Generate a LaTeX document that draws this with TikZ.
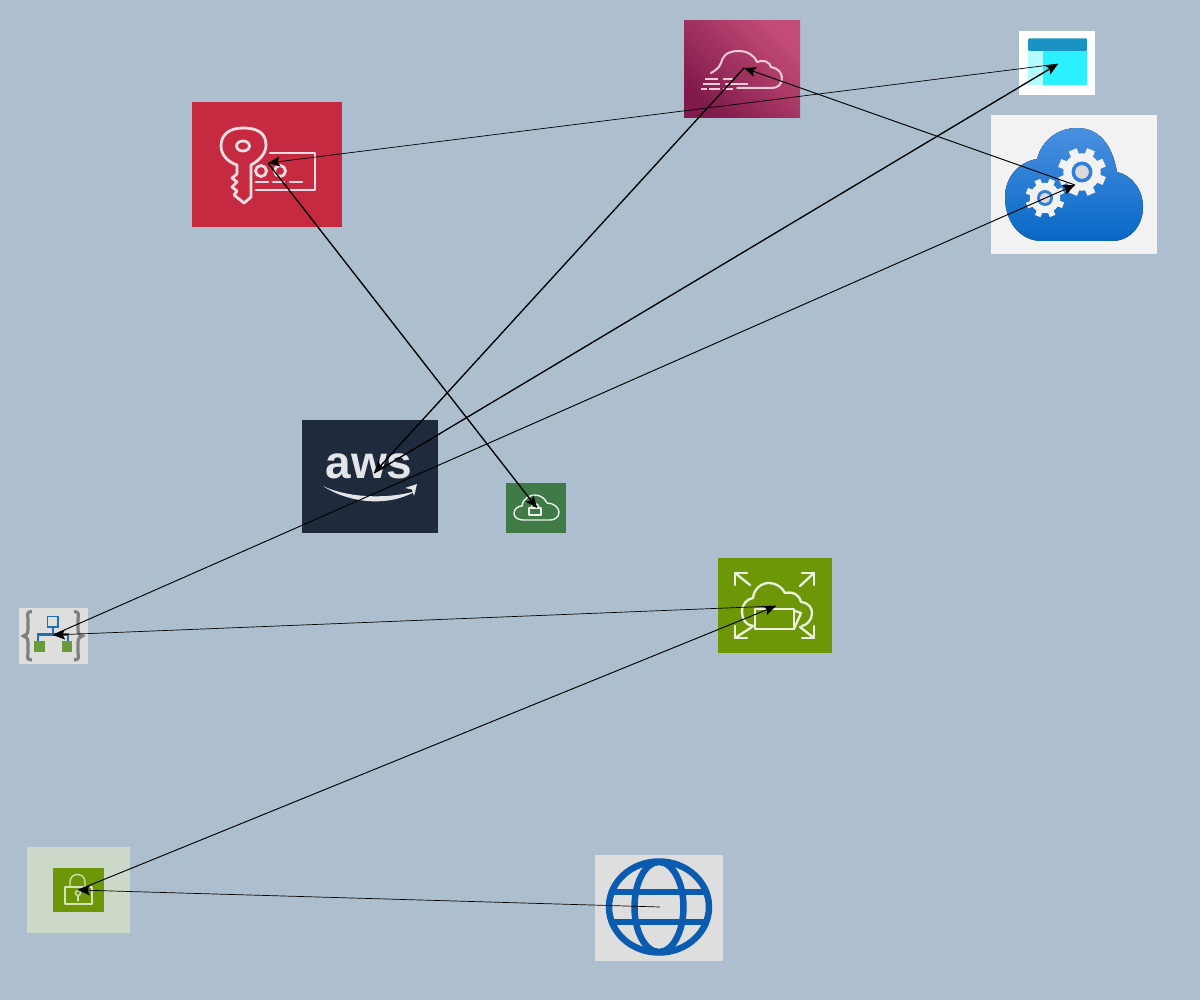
\documentclass[tikz,border=0pt]{standalone}
\usepackage{fontspec}
\setmainfont{Liberation Sans}
\usetikzlibrary{arrows.meta}
\definecolor{bgc}{HTML}{ADBFCF}
\definecolor{keyred}{HTML}{C62A40}
\definecolor{plumdark}{HTML}{7F1A4A}
\definecolor{plumlight}{HTML}{C44C78}
\definecolor{navy}{HTML}{1F2B3C}
\definecolor{leaf}{HTML}{3F7A47}
\definecolor{olive}{HTML}{6E9708}
\definecolor{pale}{HTML}{DEDEDC}
\definecolor{sage}{HTML}{CCD8C8}
\definecolor{globeb}{HTML}{0B5CB0}
\definecolor{azure}{HTML}{2F80DA}
\definecolor{cloudtop}{HTML}{4A90E0}
\definecolor{cloudlow}{HTML}{0868C6}
\definecolor{winbar}{HTML}{1A93C4}
\definecolor{winleft}{HTML}{B4FBFF}
\definecolor{winright}{HTML}{2BF0FF}
\definecolor{treeblue}{HTML}{1F6FB5}
\definecolor{treegreen}{HTML}{6A9A3A}
\tikzset{
  tile/.style={inner sep=0pt,outer sep=0pt,draw=none},
  icon/.style={line width=1.6pt,line join=round,line cap=round},
  link/.style={-{Stealth[length=12pt,width=10pt,inset=2.5pt]},black},
  linkthin/.style={link,line width=0.7pt},
  linkmid/.style={link,line width=0.95pt},
  linkbold/.style={link,line width=1.35pt},
}
\newcommand{\gearicon}[6]{% x y outer ringr toothwidth colour
  \fill[#6] (#1,#2) circle ({#3*0.78});
  \foreach \a in {0,45,...,315}{\draw[#6,line width=#5pt] (#1,#2) -- ++(\a+22:#3);}
  \fill[azure] (#1,#2) circle (#4);
  \fill[gray!30] (#1,#2) circle ({#4*0.65});
}
\begin{document}
\begin{tikzpicture}[x=1pt,y=-1pt]
\useasboundingbox (0,0) rectangle (1200,1000);
\fill[bgc] (0,0) rectangle (1200,1000);

% ---------- tiles ----------
\node[tile,fill=keyred,minimum width=150pt,minimum height=125pt] (keytile) at (267,164.5) {};
\node[tile,bottom color=plumdark,top color=plumlight,shading angle=-45,minimum width=116pt,minimum height=97pt] (fogtile) at (742,69.5) {};
\node[tile,fill=white,minimum width=76pt,minimum height=64pt] (wintile) at (1057,63) {};
\node[tile,fill=black!5,minimum width=166pt,minimum height=139pt] (geartile) at (1074,184.5) {};
\node[tile,fill=navy,minimum width=136pt,minimum height=113pt] (awstile) at (370,476.5) {};
\node[tile,fill=leaf,minimum width=60pt,minimum height=50pt] (locktile) at (536,508) {};
\node[tile,fill=olive,minimum width=114pt,minimum height=95pt] (foldertile) at (775,605.5) {};
\node[tile,fill=pale,minimum width=69pt,minimum height=56pt] (bracetile) at (53.5,636) {};
\node[tile,fill=sage,minimum width=103pt,minimum height=86pt] (vpntile) at (78.5,890) {};
\node[tile,fill=olive,minimum width=51pt,minimum height=44pt] (vpninner) at (78.5,890) {};
\node[tile,fill=black!13,minimum width=128pt,minimum height=106pt] (globetile) at (659,908) {};

% ---------- key and card ----------
\begin{scope}[icon,draw=white!85!keyred,line width=2.8pt]
  \draw (270,153) -- (315,153) -- (315,190) -- (256,190);
  \draw (261,171) circle (5.5);
  \draw (280,171) circle (5.5);
  \draw (256,182) -- (268,182) (273,182) -- (284,182) (290,182) -- (302,182);
  \draw (251,165) .. controls (260,160) and (266,153) .. (266,145)
     .. controls (266,132) and (256,128) .. (243,128)
     .. controls (230,128) and (221,134) .. (221,146)
     .. controls (221,155) and (228,162) .. (237,165)
     -- (237,174) -- (232,178) -- (237,182) -- (232,187) -- (237,191) -- (234,195)
     -- (244,203) -- (251,197) -- cycle;
  \draw (243,146) ellipse (6.5 and 5);
\end{scope}

% ---------- fog cloud ----------
\begin{scope}[icon,draw=white!72!plumlight,line width=2pt]
  \draw (711,73) .. controls (716,70) and (719,68) .. (721,63)
     .. controls (724,52) and (732,51) .. (739,51)
     .. controls (747,51) and (754,55) .. (757,62)
     .. controls (763,59) and (770,62) .. (771,67)
     .. controls (778,68) and (782,73) .. (782,78)
     .. controls (782,85) and (777,88) .. (772,88) -- (737,88);
  \draw[line width=2.2pt,line cap=butt] (705,79) -- (718,79) (723,79) -- (733,79)
     (703,84) -- (720,84) (725,84) -- (748,84)
     (701,89) -- (707,89) (709,89) -- (720,89) (723,89) -- (733,89);
\end{scope}

% ---------- window ----------
\fill[winbar,rounded corners=1pt] (1028,38.5) rectangle (1087,51);
\fill[winleft] (1028,51) rectangle (1043,85);
\fill[winright] (1043,51) rectangle (1087,85);

% ---------- cloud with gears ----------
\fill[top color=cloudtop,bottom color=cloudlow]
  (1042,241) .. controls (1020,241) and (1005,222) .. (1005,197)
  .. controls (1005,178) and (1018,162) .. (1037,159)
  .. controls (1042,140) and (1058,128) .. (1077,128)
  .. controls (1098,128) and (1112,143) .. (1117,172)
  .. controls (1132,175) and (1143,190) .. (1143,207)
  .. controls (1143,226) and (1130,241) .. (1112,241) -- cycle;
\gearicon{1082}{172}{24}{10.5}{8.5}{black!5}
\gearicon{1045}{198}{19.5}{8}{6}{black!5}

% ---------- aws ----------
\node[tile,text=white!88!navy,font=\bfseries\fontsize{46}{46}\selectfont] (awslabel) at (369,466) {aws};
\fill[white!88!navy] (323,486) .. controls (345,501) and (385,509) .. (416,491)
  .. controls (385,500) and (345,497) .. (323,486) -- cycle;
\fill[white!88!navy] (405,488) -- (417,484) -- (414,496) -- (412,489.5) -- cycle;

% ---------- cloud with lock ----------
\begin{scope}[icon,draw=white!90!leaf,line width=1.4pt]
  \draw (524,520) .. controls (516,520) and (514,516) .. (514,513)
    .. controls (514,509) and (518,506) .. (522,506)
    .. controls (523,498) and (530,495) .. (535,495)
    .. controls (541,495) and (545,499) .. (547,503)
    .. controls (554,503) and (559,508) .. (559,512)
    .. controls (559,517) and (555,520) .. (550,520) -- cycle;
  \draw (529,508) rectangle (541,515);
  \draw (531,508) .. controls (531,502) and (539,502) .. (539,508);
\end{scope}

% ---------- cloud with folder ----------
\begin{scope}[icon,draw=white!88!olive,line width=2.3pt]
  \draw (755,629) -- (755,609) -- (794,609) -- (794,629) -- cycle;
  \draw (794,629) -- (801,613) -- (795,611);
  \draw (755,626) .. controls (745,626) and (742,618) .. (742,612)
    .. controls (742,604) and (747,599) .. (753,598)
    .. controls (754,589) and (761,583) .. (769,583)
    .. controls (776,583) and (782,587) .. (785,593)
    .. controls (794,591) and (800,596) .. (801,602)
    .. controls (809,603) and (812,608) .. (812,613)
    .. controls (812,620) and (807,625) .. (802,626);
  \foreach \px/\py/\qx/\qy/\hx/\hy in {750/585/735/573/1/1,800/586/814/573/-1/1,752/627/735/638/1/-1,800/627/814/638/-1/-1}{
    \draw (\px,\py) -- (\qx,\qy);
    \draw (\qx+\hx*12,\qy) -- (\qx,\qy) -- (\qx,\qy+\hy*12);
  }
\end{scope}

% ---------- braces and tree ----------
\begin{scope}[line width=3.2pt,draw=black!50]
  \draw (32,611.5) .. controls (26,611.5) and (28,615) .. (28,620) -- (28,630)
     .. controls (28,634) and (26,635) .. (23.5,636)
     .. controls (26,637) and (28,638) .. (28,642) -- (28,652)
     .. controls (28,657) and (26,660) .. (32,660);
  \draw (74,611.5) .. controls (80,611.5) and (78,615) .. (78,620) -- (78,630)
     .. controls (78,634) and (80,635) .. (82.5,636)
     .. controls (80,637) and (78,638) .. (78,642) -- (78,652)
     .. controls (78,657) and (80,660) .. (74,660);
\end{scope}
\draw[line width=1.8pt,draw=treeblue,fill=pale] (47.5,616.5) rectangle (58,627);
\draw[line width=2.6pt,draw=treeblue] (53,627) -- (53,634.5) (38,641) -- (38,634.5) -- (68,634.5) -- (68,641);
\fill[treegreen] (34,641) rectangle (45,652);
\fill[treegreen] (62,641) rectangle (72,652);

% ---------- padlock ----------
\begin{scope}[icon,draw=white!72!olive,line width=1.3pt]
  \draw (65,887) rectangle (92,904);
  \draw (70,887) -- (70,882) .. controls (70,872) and (85,872) .. (85,882) -- (85,887);
  \draw (78,893) circle (2.5);
  \draw (78,895.5) -- (78,901);
\end{scope}

% ---------- globe ----------
\begin{scope}[draw=globeb,line width=6.5pt]
  \begin{scope}
    \clip (659,907) ellipse (53 and 48);
    \draw (600,892) -- (716,892) (600,922) -- (716,922);
  \end{scope}
  \draw (659,907) ellipse (24.5 and 45);
  \draw (659,907) ellipse (50 and 45.5);
\end{scope}

% ---------- connector ends ----------
\coordinate (keyend) at (268,163);
\coordinate (fogend) at (744,68);
\coordinate (winend) at (1058,64);
\coordinate (gearend) at (1075,185);
\coordinate (awsend) at (374,473);
\coordinate (lockend) at (537,508);
\coordinate (folderend) at (776,606);
\coordinate (braceend) at (53,635);
\coordinate (vpnend) at (78,890);
\coordinate (globeend) at (660,907);

% ---------- connectors ----------
\draw[linkthin] (globeend) -- (vpnend);
\draw[linkmid] (vpnend) -- (folderend);
\draw[linkthin] (folderend) -- (braceend);
\draw[linkmid] (braceend) -- (gearend);
\draw[linkmid] (gearend) -- (fogend);
\draw[linkbold] (fogend) -- (awsend);
\draw[linkbold] (awsend) -- (winend);
\draw[linkthin] (winend) -- (keyend);
\draw[linkbold] (keyend) -- (lockend);
\end{tikzpicture}
\end{document}
